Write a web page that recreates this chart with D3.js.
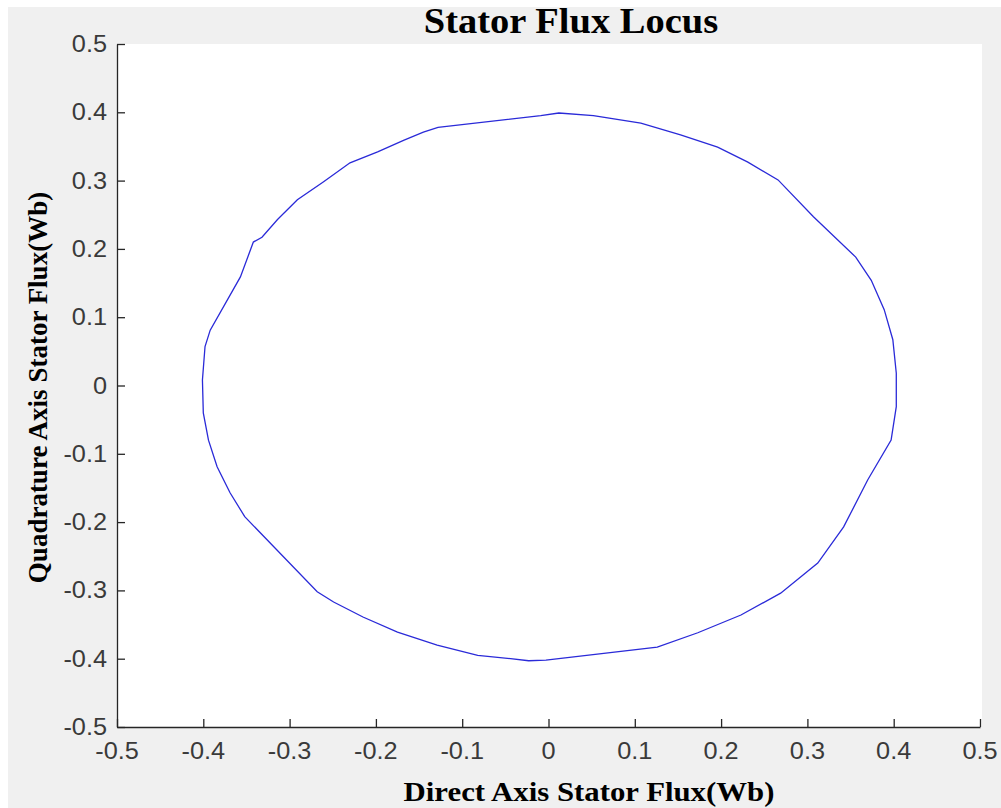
<!DOCTYPE html>
<html>
<head>
<meta charset="utf-8">
<script src="https://cdn.jsdelivr.net/npm/d3@7"></script>
<style>
  body { margin: 0; background: #fff; }
  svg { display: block; }
</style>
</head>
<body>
<div id="chart"></div>
<script>
// stator flux locus (Wb)
var fluxD = [0.012, -0.009, -0.128, -0.145, -0.168, -0.198, -0.230, -0.261, -0.291, -0.314,
  -0.332, -0.342, -0.357, -0.392, -0.398, -0.401, -0.400, -0.394, -0.384, -0.369,
  -0.352, -0.268, -0.249, -0.215, -0.175, -0.129, -0.082, -0.044, -0.023, -0.003,
  0.126, 0.173, 0.223, 0.269, 0.312, 0.342, 0.370, 0.397, 0.403, 0.403,
  0.399, 0.389, 0.374, 0.356, 0.307, 0.266, 0.231, 0.196, 0.153, 0.107, 0.052];
var fluxQ = [0.399, 0.395, 0.378, 0.371, 0.359, 0.342, 0.326, 0.298, 0.272, 0.243,
  0.217, 0.210, 0.159, 0.081, 0.057, 0.008, -0.040, -0.080, -0.119, -0.157,
  -0.192, -0.302, -0.317, -0.339, -0.361, -0.380, -0.395, -0.400, -0.403, -0.402,
  -0.383, -0.362, -0.336, -0.304, -0.260, -0.207, -0.138, -0.080, -0.031, 0.018,
  0.067, 0.111, 0.154, 0.188, 0.247, 0.301, 0.327, 0.349, 0.367, 0.384, 0.395];
var xTicks = [-0.5, -0.4, -0.3, -0.2, -0.1, 0, 0.1, 0.2, 0.3, 0.4, 0.5];
var yTicks = [-0.5, -0.4, -0.3, -0.2, -0.1, 0, 0.1, 0.2, 0.3, 0.4, 0.5];

(function(d3) {
  'use strict';
  var width = 1001;
  var height = 808;
  var left = 117, right = 980, top = 44, bottom = 727;
  var stretch = 1.1; // the picture is a bit wider than tall

  var svg = d3.select('#chart').append('svg')
    .attr('width', width)
    .attr('height', height);

  // grey figure background + white axes box
  svg.append('rect')
    .attr('x', 8).attr('y', 7)
    .attr('width', width - 8).attr('height', height - 7)
    .attr('fill', '#f0f0f0');
  svg.append('rect')
    .attr('x', left).attr('y', top)
    .attr('width', right - left + 2).attr('height', bottom - top)
    .attr('fill', '#fff');

  var x = d3.scaleLinear().domain([-0.5, 0.5]).range([left, right]);
  var y = d3.scaleLinear().domain([-0.5, 0.5]).range([bottom, top]);

  var fmt = function(d) { return d === 0 ? '0' : d3.format('.1f')(d).replace('\u2212', '-'); };

  // axes, ticks pointing inwards (matlab style)
  var xAxis = svg.append('g')
    .attr('transform', 'translate(0,' + bottom + ')')
    .call(d3.axisBottom(x).tickValues(xTicks).tickSizeInner(-8).tickSizeOuter(0).tickFormat(''));
  var yAxis = svg.append('g')
    .attr('transform', 'translate(' + left + ',0)')
    .call(d3.axisLeft(y).tickValues(yTicks).tickSizeInner(-8).tickSizeOuter(0).tickFormat(''));
  [xAxis, yAxis].forEach(function(a) {
    a.select('.domain').attr('stroke', '#262626').attr('stroke-width', 1.3);
    a.selectAll('.tick line').attr('stroke', '#262626').attr('stroke-width', 1.3);
  });

  // tick labels
  svg.selectAll('.xlab').data(xTicks).enter().append('text')
    .attr('class', 'xlab')
    .attr('transform', function(d) { return 'translate(' + x(d) + ',759) scale(' + stretch + ',1)'; })
    .attr('text-anchor', 'middle')
    .style('font', '23px "Liberation Sans", Arial, sans-serif')
    .attr('fill', '#3a3a3a')
    .text(fmt);
  svg.selectAll('.ylab').data(yTicks).enter().append('text')
    .attr('class', 'ylab')
    .attr('transform', function(d) { return 'translate(107,' + (y(d) + 8) + ') scale(' + stretch + ',1)'; })
    .attr('text-anchor', 'end')
    .style('font', '23px "Liberation Sans", Arial, sans-serif')
    .attr('fill', '#3a3a3a')
    .text(fmt);

  // the locus itself
  var pts = fluxD.map(function(d, i) { return [d, fluxQ[i]]; });
  var line = d3.line()
    .x(function(d) { return x(d[0]); })
    .y(function(d) { return y(d[1]); })
    .curve(d3.curveLinearClosed);
  svg.append('path')
    .datum(pts)
    .attr('d', line)
    .attr('fill', 'none')
    .attr('stroke', '#2a2ad8')
    .attr('stroke-width', 1.3);

  // titles (centred on the figure, not on the axes)
  svg.append('text')
    .attr('transform', 'translate(571,33) scale(' + stretch + ',1)')
    .attr('text-anchor', 'middle')
    .style('font', 'bold 35px "Liberation Serif", "Times New Roman", serif')
    .text('Stator Flux Locus');
  svg.append('text')
    .attr('transform', 'translate(589,801) scale(' + stretch + ',1)')
    .attr('text-anchor', 'middle')
    .style('font', 'bold 28px "Liberation Serif", "Times New Roman", serif')
    .text('Direct Axis Stator Flux(Wb)');
  svg.append('text')
    .attr('transform', 'translate(47,' + (y(0) + 2) + ') rotate(-90)')
    .attr('text-anchor', 'middle')
    .style('font', 'bold 27px "Liberation Serif", "Times New Roman", serif')
    .text('Quadrature Axis Stator Flux(Wb)');
})(window.d3);
</script>
</body>
</html>
